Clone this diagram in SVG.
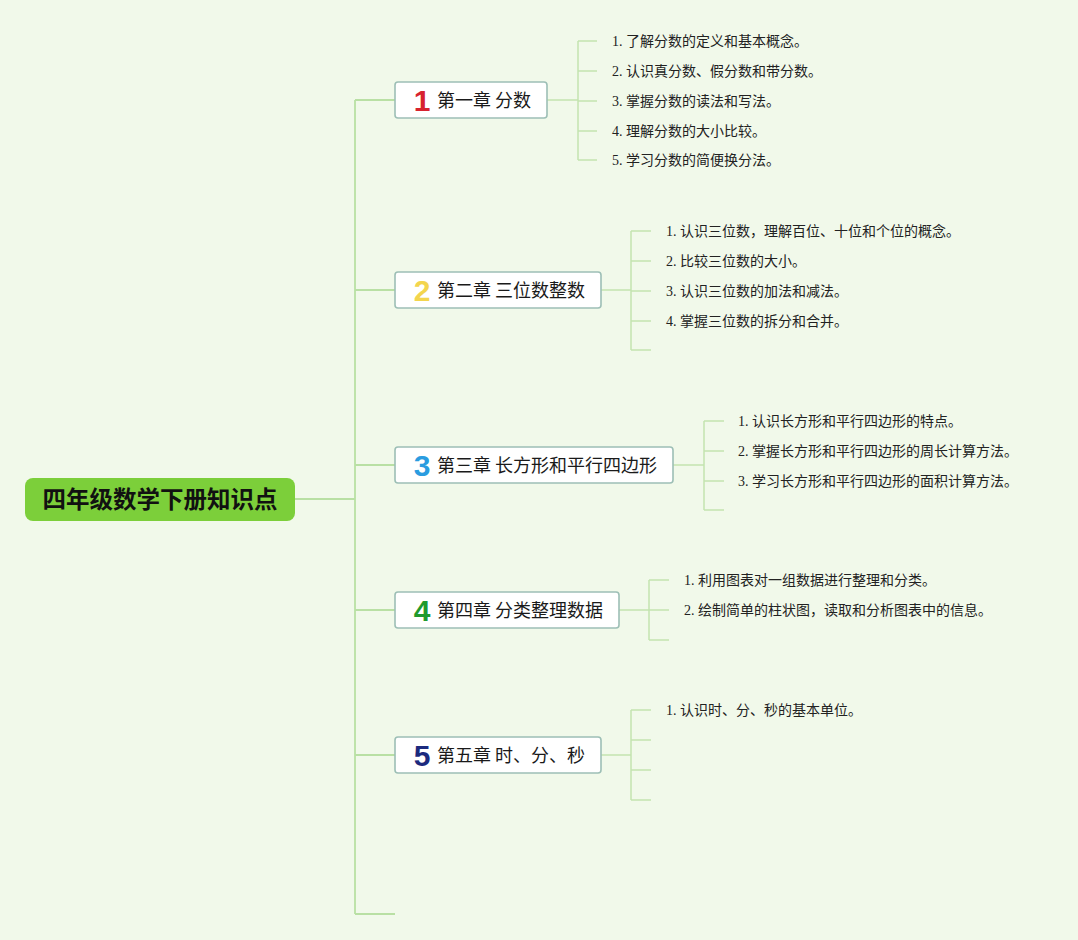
<svg xmlns="http://www.w3.org/2000/svg" width="1078" height="940" viewBox="0 0 1078 940">
<style>
.bg{fill:#f1f9ea}
.ln{fill:none;stroke:#c3e4b0;stroke-width:1.5}
.lm{fill:none;stroke:#b9e0a4;stroke-width:1.8}
.box{fill:#ffffff;stroke:#9dbfb6;stroke-width:1.6}
.ct{font-family:"Noto Sans CJK SC","Noto Sans",sans-serif;font-size:18px;fill:#1a1a1a}
.num{font-family:"Liberation Sans",Arial,sans-serif;font-weight:bold;font-size:30px;text-anchor:middle}
.st{font-family:"Liberation Serif","Noto Sans CJK SC",serif;font-size:14px;fill:#222}
.root{font-family:"Noto Sans CJK SC",sans-serif;font-weight:bold;font-size:23.5px;fill:#111;text-anchor:middle}
</style>
<rect class="bg" x="0" y="0" width="1078" height="940"/>
<g id="connectors">
<path class="lm" d="M295 499H355M355 100V914M355 100H395M355 290H395M355 465H395M355 610H395M355 755H395M355 914H395"/>
<path class="ln" d="M547 100H578M578 41V160M578 41H597M578 71H597M578 101H597M578 131H597M578 160H597"/>
<path class="ln" d="M601 290H631M631 231V350M631 231H651M631 261H651M631 291H651M631 321H651M631 350H651"/>
<path class="ln" d="M673 465H704M704 421V510M704 421H724M704 451H724M704 481H724M704 510H724"/>
<path class="ln" d="M619 610H649M649 580V640M649 580H669M649 610H669M649 640H669"/>
<path class="ln" d="M601 755H631M631 710V800M631 710H651M631 740H651M631 770H651M631 800H651"/>
</g>
<g id="root">
<rect x="25" y="478" width="270" height="43" rx="8" fill="#7ccf3a"/>
<text class="root" x="160" y="508">四年级数学下册知识点</text>
</g>
<g id="ch1">
<rect class="box" x="395" y="82" width="152" height="36" rx="3"/>
<text class="num" x="422" y="111" fill="#d7232f">1</text>
<text class="ct" x="437" y="107">第一章 分数</text>
</g>
<g id="ch1-items">
<text class="st" x="612" y="46">1. 了解分数的定义和基本概念。</text>
<text class="st" x="612" y="76">2. 认识真分数、假分数和带分数。</text>
<text class="st" x="612" y="106">3. 掌握分数的读法和写法。</text>
<text class="st" x="612" y="136">4. 理解分数的大小比较。</text>
<text class="st" x="612" y="165">5. 学习分数的简便换分法。</text>
</g>
<g id="ch2">
<rect class="box" x="395" y="272" width="206" height="36" rx="3"/>
<text class="num" x="422" y="301" fill="#f3d54e">2</text>
<text class="ct" x="437" y="297">第二章 三位数整数</text>
</g>
<g id="ch2-items">
<text class="st" x="666" y="236">1. 认识三位数，理解百位、十位和个位的概念。</text>
<text class="st" x="666" y="266">2. 比较三位数的大小。</text>
<text class="st" x="666" y="296">3. 认识三位数的加法和减法。</text>
<text class="st" x="666" y="326">4. 掌握三位数的拆分和合并。</text>
</g>
<g id="ch3">
<rect class="box" x="395" y="447" width="278" height="36" rx="3"/>
<text class="num" x="422" y="476" fill="#2a9ce0">3</text>
<text class="ct" x="437" y="472">第三章 长方形和平行四边形</text>
</g>
<g id="ch3-items">
<text class="st" x="738" y="426">1. 认识长方形和平行四边形的特点。</text>
<text class="st" x="738" y="456">2. 掌握长方形和平行四边形的周长计算方法。</text>
<text class="st" x="738" y="486">3. 学习长方形和平行四边形的面积计算方法。</text>
</g>
<g id="ch4">
<rect class="box" x="395" y="592" width="224" height="36" rx="3"/>
<text class="num" x="422" y="621" fill="#1f9a2e">4</text>
<text class="ct" x="437" y="617">第四章 分类整理数据</text>
</g>
<g id="ch4-items">
<text class="st" x="684" y="585">1. 利用图表对一组数据进行整理和分类。</text>
<text class="st" x="684" y="615">2. 绘制简单的柱状图，读取和分析图表中的信息。</text>
</g>
<g id="ch5">
<rect class="box" x="395" y="737" width="206" height="36" rx="3"/>
<text class="num" x="422" y="766" fill="#1b2a7e">5</text>
<text class="ct" x="437" y="762">第五章 时、分、秒</text>
</g>
<g id="ch5-items">
<text class="st" x="666" y="715">1. 认识时、分、秒的基本单位。</text>
</g>
</svg>
